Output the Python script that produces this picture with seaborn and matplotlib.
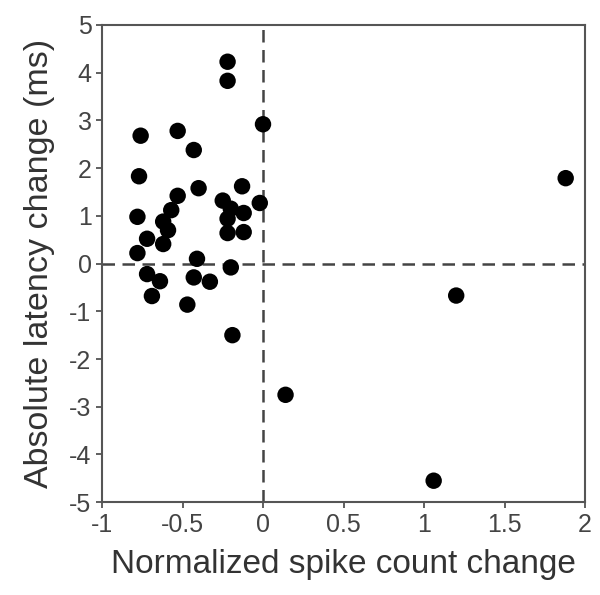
import pandas as pd
import matplotlib
matplotlib.use("Agg")
import matplotlib.pyplot as plt
import seaborn as sns

# values
spike_change = [
    -0.22, -0.22, 0.00, -0.76, -0.53, -0.43, -0.77, 1.88,
    -0.53, -0.40, -0.13, -0.02, -0.25, -0.57, -0.78, -0.20,
    -0.12, -0.62, -0.22, -0.22, -0.12, -0.59, -0.72, -0.62,
    -0.78, -0.41, -0.20, -0.72, -0.64, -0.69, -0.43, -0.33,
    -0.47, -0.19, 1.20, 0.14, 1.06,
]
latency_change = [
    4.23, 3.83, 2.92, 2.68, 2.78, 2.38, 1.83, 1.79,
    1.42, 1.58, 1.62, 1.27, 1.32, 1.12, 0.98, 1.15,
    1.06, 0.88, 0.94, 0.64, 0.66, 0.70, 0.52, 0.41,
    0.22, 0.10, -0.08, -0.22, -0.37, -0.68, -0.29, -0.38,
    -0.86, -1.50, -0.67, -2.75, -4.55,
]

df = pd.DataFrame({"x": spike_change, "y": latency_change})

sns.set_style("ticks")
plt.rcParams["font.family"] = ["Liberation Sans", "DejaVu Sans"]
plt.rcParams["axes.unicode_minus"] = False

fig, ax = plt.subplots(figsize=(6, 5.95), dpi=100)
fig.subplots_adjust(left=0.17, right=0.975, top=0.958, bottom=0.156)

ax.axhline(0, color="#444444", lw=1.8, ls=(0, (5, 3)), zorder=1)
ax.axvline(0, color="#444444", lw=1.8, ls=(0, (5, 3)), zorder=1)

sns.scatterplot(data=df, x="x", y="y", color="black", s=140,
                edgecolor="none", ax=ax, zorder=3)

ax.set_xlim(-1, 2)
ax.set_ylim(-5, 5)
ax.set_xticks([-1, -0.5, 0, 0.5, 1, 1.5, 2])
ax.set_xticklabels(["-1", "-0.5", "0", "0.5", "1", "1.5", "2"])
ax.set_yticks(range(-5, 6))

ax.set_xlabel("Normalized spike count change", fontsize=24, color="#333333", labelpad=9)
ax.set_ylabel("Absolute latency change (ms)", fontsize=24.5, color="#333333", labelpad=10)
ax.tick_params(labelsize=18, colors="#444444", length=4, width=1.2, direction="out")
for sp in ax.spines.values():
    sp.set_color("#555555")
    sp.set_linewidth(1.5)

plt.savefig("out.png")
